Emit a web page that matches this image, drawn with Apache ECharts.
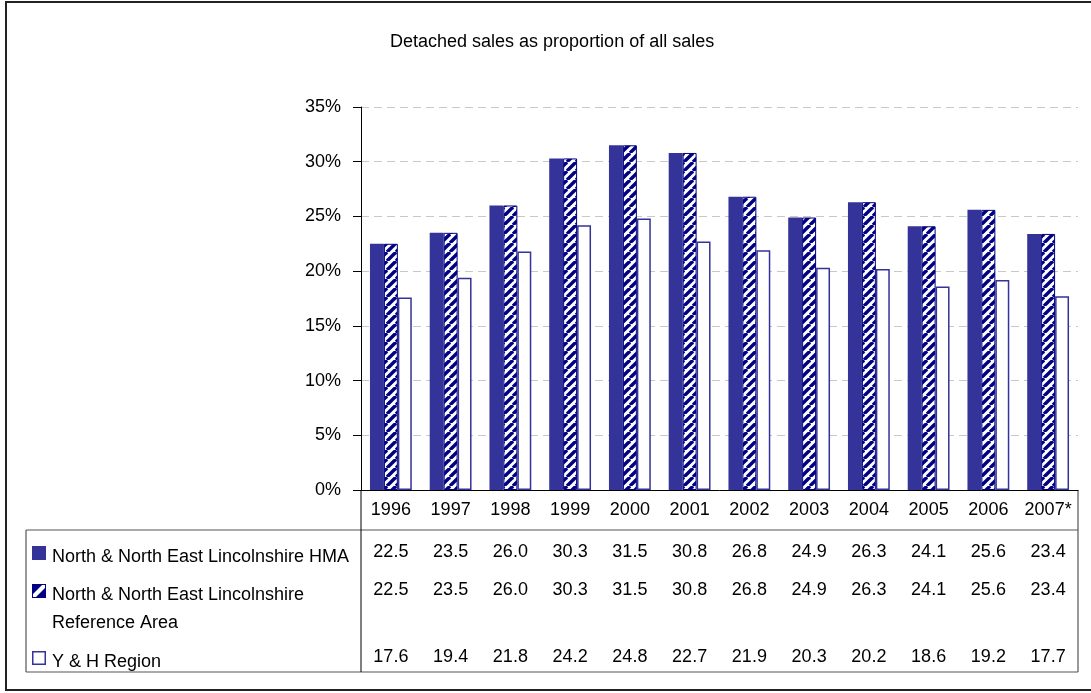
<!DOCTYPE html>
<html>
<head>
<meta charset="utf-8">
<script src="https://cdn.jsdelivr.net/npm/echarts@6/dist/echarts.min.js"></script>
<style>
  html, body { margin: 0; padding: 0; background: #fff; }
  #chart { width: 1091px; height: 693px; }
</style>
</head>
<body>
<div id="chart"></div>
<script>
// Detached sales share by year (%)
const years = ['1996', '1997', '1998', '1999', '2000', '2001', '2002', '2003', '2004', '2005', '2006', '2007*'];
const hmaValues = [22.5, 23.5, 26.0, 30.3, 31.5, 30.8, 26.8, 24.9, 26.3, 24.1, 25.6, 23.4];
const referenceValues = [22.5, 23.5, 26.0, 30.3, 31.5, 30.8, 26.8, 24.9, 26.3, 24.1, 25.6, 23.4];
const regionValues = [17.6, 19.4, 21.8, 24.2, 24.8, 22.7, 21.9, 20.3, 20.2, 18.6, 19.2, 17.7];
const seriesNames = [
  'North & North East Lincolnshire HMA',
  'North & North East Lincolnshire\nReference Area',
  'Y & H Region'
];
const yTicks = { min: 0, max: 35, interval: 5 };

const FONT = "'Liberation Sans', Arial, sans-serif";
const SOLID = '#333399';
const NAVY = '#000080';

// Diagonal "/" stripe fill for the reference-area bars
function stripePattern() {
  const s = 9;
  const c = document.createElement('canvas');
  c.width = s; c.height = s;
  const g = c.getContext('2d');
  g.fillStyle = '#fff';
  g.fillRect(0, 0, s, s);
  g.strokeStyle = NAVY;
  g.lineWidth = 3.4;
  for (let k = -1; k <= 1; k++) {
    g.beginPath();
    g.moveTo(k * s, s);
    g.lineTo(k * s + s, 0);
    g.stroke();
  }
  return c;
}

const chart = echarts.init(document.getElementById('chart'), null, { renderer: 'canvas' });

const grid = { left: 361, right: 13, top: 107, bottom: 203 };

chart.setOption({
  backgroundColor: '#fff',
  animation: false,
  title: {
    text: 'Detached sales as proportion of all sales',
    left: 385,
    top: 28,
    textStyle: { fontFamily: FONT, fontSize: 18, fontWeight: 'normal', color: '#000' }
  },
  grid: grid,
  xAxis: {
    type: 'category',
    data: years,
    axisLine: { lineStyle: { color: '#000', width: 1 } },
    axisTick: { show: false },
    axisLabel: { interval: 0, color: '#000', fontFamily: FONT, fontSize: 18, margin: 11 }
  },
  yAxis: {
    type: 'value',
    min: yTicks.min,
    max: yTicks.max,
    interval: yTicks.interval,
    axisLine: { show: true, lineStyle: { color: '#000', width: 1 } },
    axisTick: { show: true, length: 8, lineStyle: { color: '#000' } },
    axisLabel: { color: '#000', fontFamily: FONT, fontSize: 18, margin: 20, formatter: '{value}%' },
    splitLine: { show: true, lineStyle: { color: '#c8c8c8', type: [8, 5], width: 1 } }
  },
  series: [
    {
      name: seriesNames[0], type: 'bar', data: hmaValues,
      barGap: '0%', barCategoryGap: '30%',
      itemStyle: { color: SOLID }
    },
    {
      name: seriesNames[1], type: 'bar', data: referenceValues,
      barGap: '0%', barCategoryGap: '30%',
      itemStyle: { color: { image: stripePattern(), repeat: 'repeat' }, borderColor: NAVY, borderWidth: 1 }
    },
    {
      name: seriesNames[2], type: 'bar', data: regionValues,
      barGap: '0%', barCategoryGap: '30%',
      itemStyle: { color: '#fff', borderColor: SOLID, borderWidth: 1.5 }
    }
  ]
});

// Data table under the plot: frame, legend keys, row labels and values
const table = { left: 26, right: 1078, header: 490, top: 530, bottom: 672, divider: 361 };
const rowY = [554, 592, 659];
const rowValues = [hmaValues, referenceValues, regionValues];
const lineStyle = { stroke: '#555', lineWidth: 1.2 };

const elements = [];
// outer frame around the whole figure
elements.push({ type: 'rect', shape: { x: 6, y: 2, width: 1200, height: 688 }, style: { fill: null, stroke: '#222', lineWidth: 2 }, silent: true });
// table frame
elements.push({ type: 'line', shape: { x1: table.left, y1: table.top, x2: table.right, y2: table.top }, style: lineStyle });
elements.push({ type: 'line', shape: { x1: table.left, y1: table.bottom, x2: table.right, y2: table.bottom }, style: lineStyle });
elements.push({ type: 'line', shape: { x1: table.left, y1: table.top, x2: table.left, y2: table.bottom }, style: lineStyle });
elements.push({ type: 'line', shape: { x1: table.right, y1: table.header, x2: table.right, y2: table.bottom }, style: lineStyle });
elements.push({ type: 'line', shape: { x1: table.divider, y1: table.header, x2: table.divider, y2: table.bottom }, style: { stroke: '#000', lineWidth: 1 } });

// legend keys
const keyX = 32, keySize = 14;
elements.push({ type: 'rect', shape: { x: keyX, y: rowY[0] - 8, width: keySize, height: keySize }, style: { fill: SOLID } });
elements.push({ type: 'rect', shape: { x: keyX, y: rowY[1] - 8, width: keySize, height: keySize }, style: { fill: NAVY } });
elements.push({ type: 'polygon', shape: { points: [[keyX + 1, rowY[1] + 5], [keyX + 4, rowY[1] + 5], [keyX + 13, rowY[1] - 4], [keyX + 13, rowY[1] - 7], [keyX + 10, rowY[1] - 7], [keyX + 1, rowY[1] + 2]] }, style: { fill: '#fff' } });
elements.push({ type: 'rect', shape: { x: keyX + 0.75, y: rowY[2] - 7.25, width: keySize - 1.5, height: keySize - 1.5 }, style: { fill: '#fff', stroke: SOLID, lineWidth: 1.5 } });

// row labels
seriesNames.forEach((name, r) => {
  elements.push({
    type: 'text',
    style: {
      text: name, x: 52, y: rowY[r] - 11, fill: '#000',
      fontFamily: FONT, fontSize: 18, lineHeight: 28,
      align: 'left', verticalAlign: 'top'
    }
  });
});

// values per category column
years.forEach((yr, i) => {
  const cx = chart.convertToPixel({ xAxisIndex: 0 }, i);
  rowValues.forEach((vals, r) => {
    elements.push({
      type: 'text',
      style: {
        text: vals[i].toFixed(1), x: cx, y: rowY[r] - 11, fill: '#000',
        fontFamily: FONT, fontSize: 18, align: 'center', verticalAlign: 'top'
      }
    });
  });
});

chart.setOption({ graphic: { elements: elements } });
</script>
</body>
</html>
